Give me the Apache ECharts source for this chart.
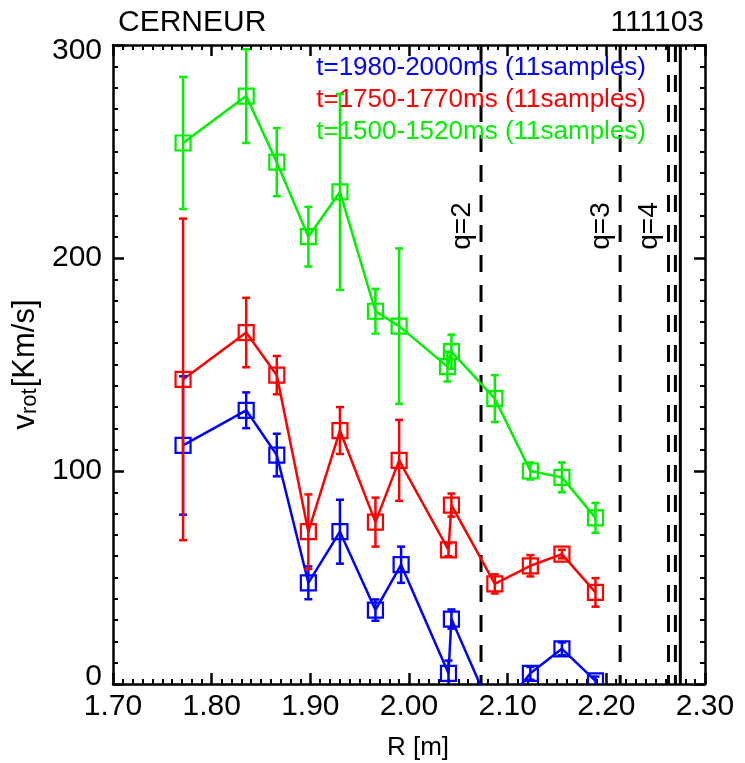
<!DOCTYPE html>
<html>
<head>
<meta charset="utf-8">
<script src="https://cdn.jsdelivr.net/npm/echarts@6/dist/echarts.min.js"></script>
<style>
  html, body { margin: 0; padding: 0; background: #fff; }
  #chart { width: 745px; height: 763px; }
</style>
</head>
<body>
<div id="chart"></div>
<script>
const FONT = "Liberation Sans";

// tick labels
const xTickLabels = ["1.70", "1.80", "1.90", "2.00", "2.10", "2.20", "2.30"];
const yTickLabels = ["0", "100", "200", "300"];

// t=1980-2000ms
const blueR = [1.771, 1.835, 1.866, 1.898, 1.930, 1.966, 1.992, 2.040, 2.043, 2.087, 2.123, 2.155, 2.189];
const blueV = [112, 128.5, 107.5, 47.5, 71.5, 34.7, 56, 5, 30.5, -16, 5, 16.5, 1.5];
const blueErr = [32.5, 8.4, 10, 7.7, 15, 5, 8.5, 6, 4.5, 5, 3, 3, 2];

// t=1750-1770ms
const redR = [1.771, 1.835, 1.866, 1.898, 1.930, 1.966, 1.990, 2.040, 2.043, 2.087, 2.123, 2.155, 2.189];
const redV = [143, 165, 145, 71.5, 119, 76, 105, 63, 84, 47, 55.5, 61, 43];
const redErr = [75.5, 16.3, 9, 17.5, 11, 11.5, 19, 3, 5.4, 4.5, 5, 2, 6.7];

// t=1500-1520ms
const greenR = [1.771, 1.835, 1.866, 1.898, 1.930, 1.966, 1.990, 2.039, 2.043, 2.087, 2.123, 2.155, 2.189];
const greenV = [254, 276, 245, 210, 231, 175, 168, 149, 156, 134, 100, 97, 78];
const greenErr = [31, 22, 16, 14, 46, 10.5, 36.5, 7, 8, 11, 4, 7, 7];

// rational surfaces + boundary
const qR = [2.073, 2.214, 2.263, 2.270];
const qNames = ["q=2", "q=3", "q=4", ""];
const qNameV = 215;
const edgeR = 2.275;

const legendTexts = [
  "t=1980-2000ms (11samples)",
  "t=1750-1770ms (11samples)",
  "t=1500-1520ms (11samples)",
];
const colors = ["#0000ff", "#ff0000", "#00f000"];

function lineSeries(r, v, color) {
  return {
    type: "line",
    data: r.map((x, i) => [x, v[i]]),
    symbol: "none",
    clip: true,
    z: 2,
    lineStyle: { color: color, width: 2.5 },
  };
}

function errorSeries(r, v, err, color) {
  return {
    type: "custom",
    clip: true,
    z: 3,
    data: r.map((x, i) => [x, v[i], err[i]]),
    encode: { x: 0, y: 1 },
    renderItem(params, api) {
      const x = api.value(0);
      const y = api.value(1);
      const e = api.value(2);
      const c = api.coord([x, y]);
      const t = api.coord([x, y + e]);
      const b = api.coord([x, y - e]);
      const st = { stroke: color, lineWidth: 2.5, fill: "none" };
      return {
        type: "group",
        children: [
          { type: "line", shape: { x1: c[0], y1: t[1], x2: c[0], y2: b[1] }, style: st },
          { type: "line", shape: { x1: c[0] - 4, y1: t[1], x2: c[0] + 4, y2: t[1] }, style: st },
          { type: "line", shape: { x1: c[0] - 4, y1: b[1], x2: c[0] + 4, y2: b[1] }, style: st },
          {
            type: "rect",
            shape: { x: c[0] - 7.5, y: c[1] - 7.5, width: 15, height: 15 },
            style: { stroke: color, lineWidth: 2.2, fill: "none" },
          },
        ],
      };
    },
  };
}

const qSeries = {
  type: "custom",
  clip: true,
  z: 1,
  data: qR.map((x, i) => [x, i]),
  encode: { x: 0 },
  renderItem(params, api) {
    const x = api.value(0);
    const i = api.value(1);
    const top = api.coord([x, 300]);
    const bot = api.coord([x, 0]);
    const lab = api.coord([x, qNameV]);
    const children = [
      {
        type: "line",
        shape: { x1: top[0], y1: top[1], x2: bot[0], y2: bot[1] },
        style: { stroke: "#000", lineWidth: 3, lineDash: [17, 13] },
      },
    ];
    if (qNames[i]) {
      children.push({
        type: "text",
        x: lab[0] - 19,
        y: lab[1],
        rotation: Math.PI / 2,
        style: {
          text: qNames[i],
          fontFamily: FONT,
          fontSize: 28,
          fill: "#000",
          align: "center",
          verticalAlign: "middle",
        },
      });
    }
    return { type: "group", children: children };
  },
};

const edgeSeries = {
  type: "custom",
  clip: true,
  z: 1,
  data: [[edgeR]],
  encode: { x: 0 },
  renderItem(params, api) {
    const x = api.value(0);
    const top = api.coord([x, 300]);
    const bot = api.coord([x, 0]);
    return {
      type: "line",
      shape: { x1: top[0], y1: top[1], x2: bot[0], y2: bot[1] },
      style: { stroke: "#000", lineWidth: 3 },
    };
  },
};

const axisLineStyle = { color: "#000", width: 2.5 };

function xAxisCfg(pos, showLabel) {
  return {
    type: "value",
    position: pos,
    min: 1.7,
    max: 2.3,
    interval: 0.1,
    axisLine: { show: true, onZero: false, lineStyle: axisLineStyle },
    axisTick: { show: true, inside: true, length: 11, lineStyle: { color: "#000", width: 2.5 } },
    minorTick: { show: true, splitNumber: 10, length: 5, lineStyle: { color: "#000", width: 2 } },
    splitLine: { show: false },
    axisLabel: {
      show: showLabel,
      margin: 8,
      color: "#000",
      fontFamily: FONT,
      fontSize: 30,
      formatter: (v) => xTickLabels[Math.round((v - 1.7) / 0.1)],
    },
  };
}

function yAxisCfg(pos, showLabel) {
  return {
    type: "value",
    position: pos,
    min: 0,
    max: 300,
    interval: 100,
    axisLine: { show: true, onZero: false, lineStyle: axisLineStyle },
    axisTick: { show: true, inside: true, length: 11, lineStyle: { color: "#000", width: 2.5 } },
    minorTick: { show: true, splitNumber: 10, length: 5, lineStyle: { color: "#000", width: 2 } },
    splitLine: { show: false },
    axisLabel: {
      show: showLabel,
      margin: 11,
      color: "#000",
      fontFamily: FONT,
      fontSize: 30,
      formatter: (v) => {
        const s = yTickLabels[Math.round(v / 100)];
        if (v === 0) return "{lo|" + s + "}";
        if (v === 300) return "{hi|" + s + "}";
        return s;
      },
      rich: {
        lo: { fontFamily: FONT, fontSize: 30, color: "#000", padding: [0, 0, 15, 0] },
        hi: { fontFamily: FONT, fontSize: 30, color: "#000", padding: [12, 0, 0, 0] },
      },
    },
  };
}

const xMain = xAxisCfg("bottom", true);
xMain.name = "R [m]";
xMain.nameLocation = "middle";
xMain.nameGap = 51;
xMain.nameTextStyle = { fontFamily: FONT, fontSize: 26, color: "#000", padding: [0, 0, 0, 18] };

const yMain = yAxisCfg("left", true);
yMain.name = "{v|v}{s|rot}{b|[Km/s]}";
yMain.nameLocation = "middle";
yMain.nameGap = 65;
yMain.nameRotate = 90;
yMain.nameTextStyle = {
  rich: {
    v: { fontFamily: FONT, fontSize: 31, color: "#000", lineHeight: 31 },
    s: { fontFamily: FONT, fontSize: 22, color: "#000", lineHeight: 22, padding: [16, 1, 0, 0], verticalAlign: "bottom" },
    b: { fontFamily: FONT, fontSize: 31, color: "#000", lineHeight: 31 },
  },
};

const textEls = [
  { type: "text", x: 118, y: 23, style: { text: "CERNEUR", fontFamily: FONT, fontSize: 30, fill: "#000", align: "left", verticalAlign: "middle" } },
  { type: "text", x: 704, y: 23, style: { text: "111103", fontFamily: FONT, fontSize: 30, fill: "#000", align: "right", verticalAlign: "middle" } },
];
const legendY = [68, 100, 132];
legendTexts.forEach((t, i) => {
  textEls.push({
    type: "text",
    x: 646,
    y: legendY[i],
    z: 10,
    style: { text: t, fontFamily: FONT, fontSize: 26, fill: colors[i], align: "right", verticalAlign: "middle" },
  });
});

const option = {
  animation: false,
  backgroundColor: "#fff",
  grid: { left: 113, right: 40, top: 45, bottom: 79, containLabel: false, outerBoundsMode: "none" },
  xAxis: [xMain, xAxisCfg("top", false)],
  yAxis: [yMain, yAxisCfg("right", false)],
  graphic: textEls,
  series: [
    qSeries,
    edgeSeries,
    lineSeries(blueR, blueV, colors[0]),
    errorSeries(blueR, blueV, blueErr, colors[0]),
    lineSeries(redR, redV, colors[1]),
    errorSeries(redR, redV, redErr, colors[1]),
    lineSeries(greenR, greenV, colors[2]),
    errorSeries(greenR, greenV, greenErr, colors[2]),
  ],
};

const myChart = echarts.init(document.getElementById("chart"));
myChart.setOption(option);
</script>
</body>
</html>
